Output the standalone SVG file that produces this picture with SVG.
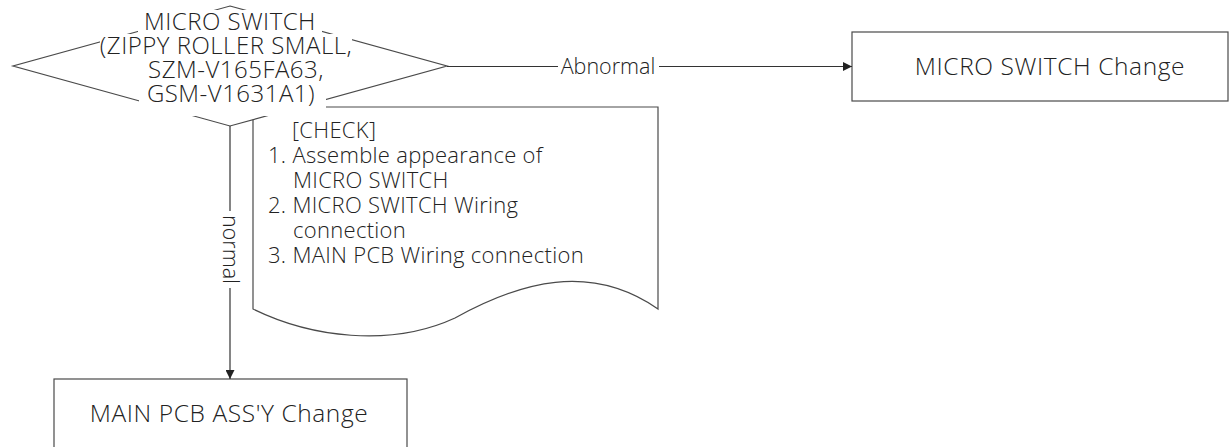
<svg xmlns="http://www.w3.org/2000/svg" width="1229" height="447" viewBox="0 0 1229 447">
<style>
.shape{fill:#fff;stroke:#4a4a4a;stroke-width:1.2}
.edge{fill:none;stroke:#333;stroke-width:1.2}
.t{font-family:"Open Sans","Noto Sans",sans-serif;font-weight:300;fill:#222}
.node{font-size:24px;letter-spacing:0.5px;text-anchor:middle}
.box{font-size:24.5px;letter-spacing:0.6px;text-anchor:middle}
.note{font-size:22px;letter-spacing:0.3px}
.lbl{font-size:21.5px;text-anchor:middle}
.bg{fill:#fff;stroke:none}
</style>
<defs>
<marker id="arr" viewBox="0 0 10 10" refX="10" refY="5" markerWidth="9" markerHeight="9" markerUnits="userSpaceOnUse" orient="auto">
<path d="M0,0 L10,5 L0,10 z" fill="#222"/>
</marker>
</defs>
<g id="note-check">
<path class="shape" d="M253,107 L658,107 L658,309 C590,262 520,282 455,318 C390,348 310,337 253,309 Z"/>
<text class="t note" x="292" y="138">[CHECK]</text>
<text class="t note" x="268" y="163">1. Assemble appearance of</text>
<text class="t note" x="293" y="188">MICRO SWITCH</text>
<text class="t note" x="268" y="213">2. MICRO SWITCH Wiring</text>
<text class="t note" x="293" y="238">connection</text>
<text class="t note" x="268" y="263">3. MAIN PCB Wiring connection</text>
</g>
<g id="decision-micro-switch">
<path class="shape" d="M230,6 L447,66 L230,126 L13,66 Z"/>
<rect class="bg" x="138" y="10" width="184" height="24"/>
<rect class="bg" x="100" y="34" width="252" height="24"/>
<rect class="bg" x="134" y="58" width="204" height="24"/>
<rect class="bg" x="139" y="82" width="187" height="34"/>
<text class="t node" x="230" y="30">MICRO SWITCH</text>
<text class="t node" x="226" y="54">(ZIPPY ROLLER SMALL,</text>
<text class="t node" x="236" y="78">SZM-V165FA63,</text>
<text class="t node" x="231" y="102">GSM-V1631A1)</text>
</g>
<g id="box-micro-switch-change">
<rect class="shape" x="852" y="32" width="376" height="69"/>
<text class="t box" x="1050" y="75">MICRO SWITCH Change</text>
</g>
<g id="box-main-pcb-change">
<rect class="shape" x="54" y="379" width="353" height="69"/>
<text class="t box" x="229" y="422">MAIN PCB ASS'Y Change</text>
</g>
<g id="connectors">
<path class="edge" d="M447,66.5 L852,66.5" marker-end="url(#arr)"/>
<rect class="bg" x="558" y="56" width="101" height="22"/>
<text class="t lbl" x="608" y="74">Abnormal</text>
<path class="edge" d="M230,126 L230,379" marker-end="url(#arr)"/>
<rect class="bg" x="220" y="211" width="20" height="77"/>
<text class="t lbl" transform="translate(223,249.5) rotate(90)" x="0" y="0">normal</text>
</g>
</svg>
